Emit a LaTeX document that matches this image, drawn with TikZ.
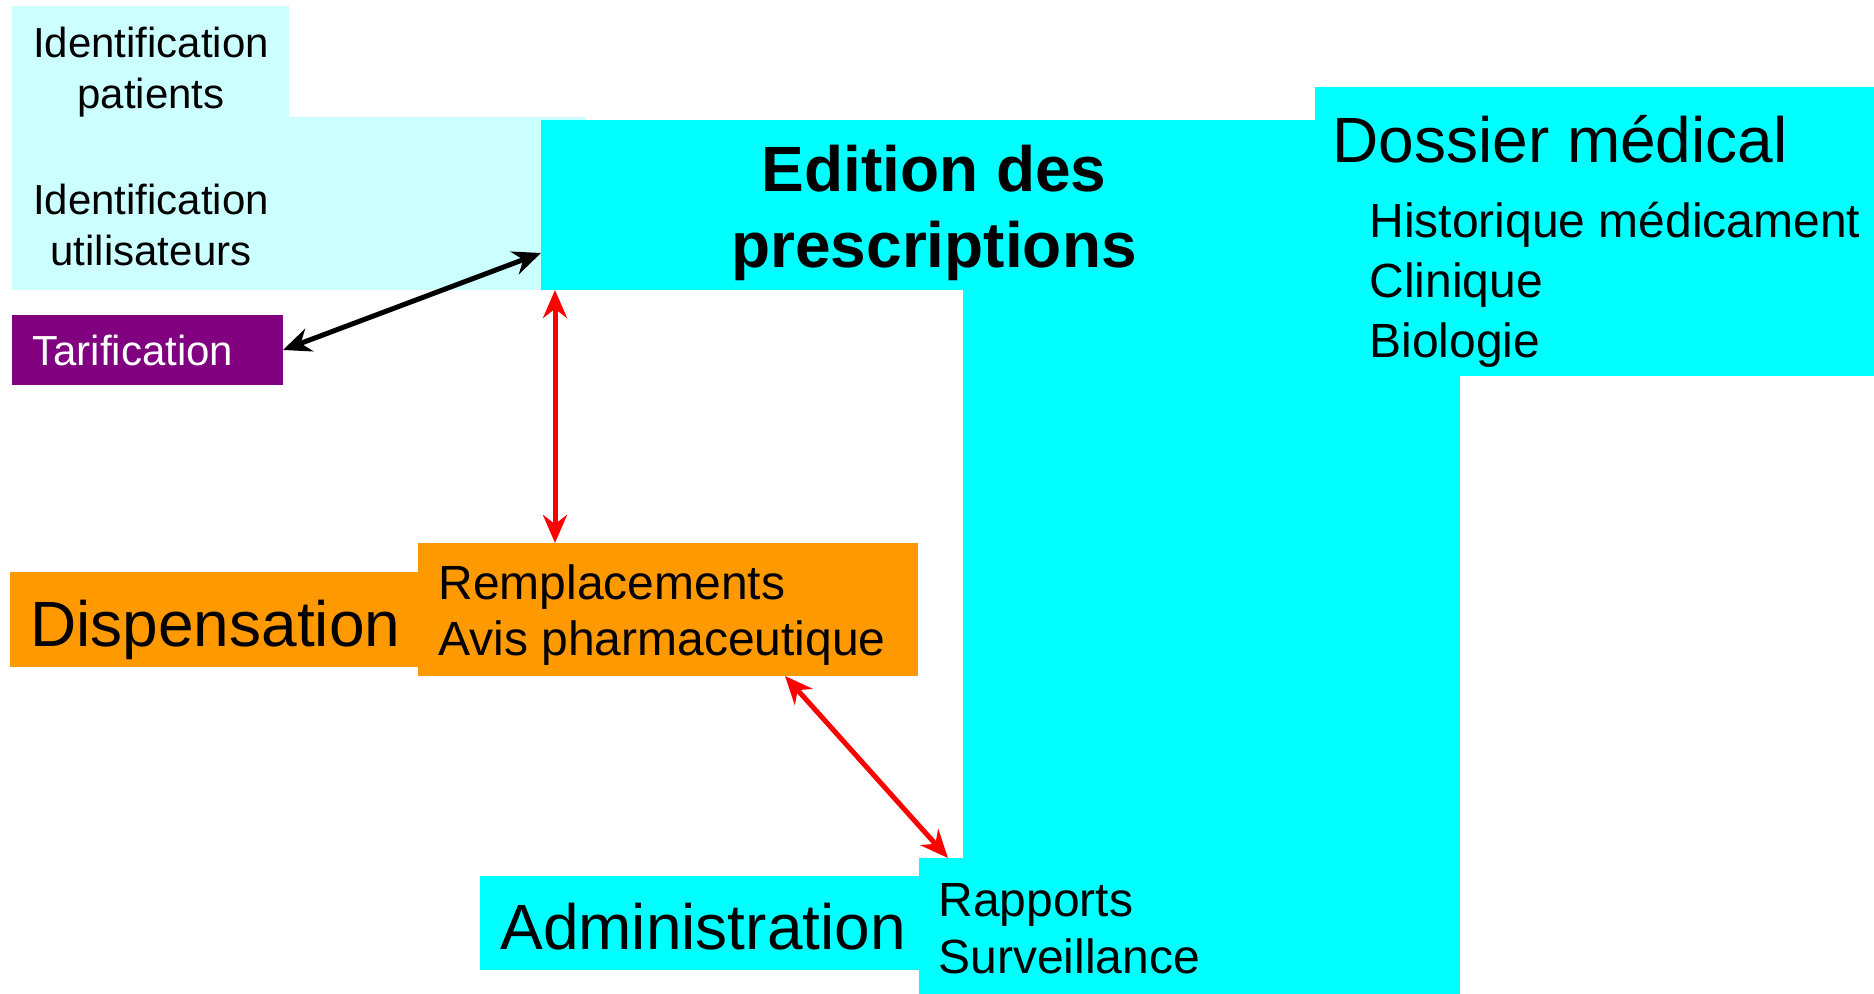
\documentclass[tikz,border=0pt]{standalone}
\usepackage{fontspec}
\setmainfont{Liberation Sans}
\usetikzlibrary{arrows.meta}

\definecolor{palecyan}{HTML}{CCFFFF}
\definecolor{boxcyan}{HTML}{00FFFF}
\definecolor{tarifpurple}{HTML}{800080}
\definecolor{disporange}{HTML}{FF9900}

\tikzset{
  block/.style={anchor=north west, inner sep=0pt, outer sep=0pt, fill=#1},
  smalltxt/.style={inner sep=0pt, align=center, font=\fontsize{21}{25.5}\selectfont},
  midtxt/.style={inner sep=0pt, align=left, font=\fontsize{24}{29}\selectfont},
  bigtxt/.style={inner sep=0pt, font=\fontsize{32}{38}\selectfont},
  link/.style={line width=2.5pt, {Stealth[length=14pt,width=12pt]}-{Stealth[length=14pt,width=12pt]}}
}

\begin{document}
\begin{tikzpicture}[x=0.5pt, y=-0.5pt]
	\useasboundingbox (0, 0) rectangle (1874, 994);

	% boxes
	\draw (12, 6) 		node[block=palecyan, minimum width=138.5pt, minimum height=55.5pt] 	(patients) 	{};
	\draw (12, 117) 	node[block=palecyan, minimum width=287pt, minimum height=86.5pt] 	(users) 	{};
	\draw (12, 315) 	node[block=tarifpurple, minimum width=135.5pt, minimum height=35pt] 	(tarif) 	{};
	\draw (541, 120) 	node[block=boxcyan, minimum width=387pt, minimum height=85pt] 		(edition) 	{};
	\draw (1315, 87) 	node[block=boxcyan, minimum width=279.5pt, minimum height=144.5pt] 	(dossier) 	{};
	\draw (963, 288) 	node[block=boxcyan, minimum width=248.5pt, minimum height=353pt] 	(body) 		{};
	\draw (10, 572) 	node[block=disporange, minimum width=204pt, minimum height=47.5pt] 	(disp) 		{};
	\draw (418, 543) 	node[block=disporange, minimum width=250pt, minimum height=66.5pt] 	(remp) 		{};
	\draw (480, 876) 	node[block=boxcyan, minimum width=219.5pt, minimum height=47pt] 	(admin) 	{};
	\draw (919, 858) 	node[block=boxcyan, minimum width=270.5pt, minimum height=68pt] 	(rapports) 	{};

	% texts
	\draw (151, 72) 	node[smalltxt] 				(patients_t) 	{Identification\\patients};
	\draw (151, 225) 	node[smalltxt] 				(users_t) 	{Identification\\utilisateurs};
	\draw (32, 366) 	node[smalltxt, anchor=base west, text=white] 	(tarif_t) 	{Tarification};
	\draw (934, 213) 	node[bigtxt, align=center, font=\fontsize{32}{38}\selectfont\bfseries] (edition_t) {Edition des\\prescriptions};
	\draw (1332, 163) 	node[bigtxt, anchor=base west] 		(dossier_t) 	{Dossier médical};
	\draw (1369, 285) 	node[midtxt, anchor=west, font=\fontsize{24}{30}\selectfont] (dossier_l) {Historique médicament\\Clinique\\Biologie};
	\draw (30, 646) 	node[bigtxt, anchor=base west] 		(disp_t) 	{Dispensation};
	\draw (438, 615) 	node[midtxt, anchor=west, font=\fontsize{24}{28}\selectfont] (remp_t) {Remplacements\\Avis pharmaceutique};
	\draw (500, 949) 	node[bigtxt, anchor=base west] 		(admin_t) 	{Administration};
	\draw (938, 929) 	node[midtxt, anchor=west, font=\fontsize{24}{28.5}\selectfont] (rapports_t) {Rapports\\Surveillance};

	% arrows
	\draw[link, black] (tarif.east) -- ([yshift=18.5pt]edition.south west);
	\draw[link, red] ([xshift=7pt]edition.south west) -- ([xshift=7pt]edition.south west |- remp.north);
	\draw[link, red] ([xshift=-66.5pt]remp.south east) -- ([xshift=14.5pt]rapports.north west);
\end{tikzpicture}
\end{document}
